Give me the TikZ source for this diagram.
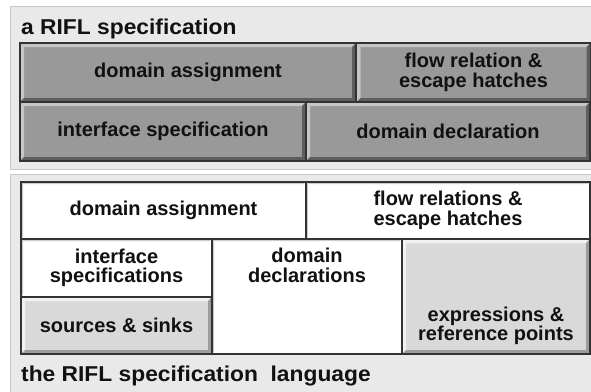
\documentclass[tikz,border=0pt]{standalone}
\usepackage{fontspec}
\usepackage{graphicx}
\setmainfont{Liberation Sans}
\definecolor{panelfill}{HTML}{E9E9E9}
\definecolor{panelline}{HTML}{C8C8C8}
\definecolor{dgray}{HTML}{999999}
\definecolor{dgraylight}{HTML}{C6C6C6}
\definecolor{dgraydark}{HTML}{5E5E5E}
\definecolor{lgray}{HTML}{D9D9D9}
\definecolor{lgraylight}{HTML}{F2F2F2}
\definecolor{lgraydark}{HTML}{9C9C9C}
\definecolor{outline}{HTML}{333333}
\definecolor{txt}{HTML}{111111}
\tikzset{
  bevel/.style n args={3}{path picture={
    \fill[#1] (path picture bounding box.north west) -- (path picture bounding box.north east)
      -- ([shift={(-#3,-#3)}]path picture bounding box.north east)
      -- ([shift={(#3,-#3)}]path picture bounding box.north west) -- cycle;
    \fill[#1] (path picture bounding box.north west) -- (path picture bounding box.south west)
      -- ([shift={(#3,#3)}]path picture bounding box.south west)
      -- ([shift={(#3,-#3)}]path picture bounding box.north west) -- cycle;
    \fill[#2] (path picture bounding box.south west) -- (path picture bounding box.south east)
      -- ([shift={(-#3,#3)}]path picture bounding box.south east)
      -- ([shift={(#3,#3)}]path picture bounding box.south west) -- cycle;
    \fill[#2] (path picture bounding box.north east) -- (path picture bounding box.south east)
      -- ([shift={(-#3,#3)}]path picture bounding box.south east)
      -- ([shift={(-#3,-#3)}]path picture bounding box.north east) -- cycle;
  }},
  boxtext/.style={font=\fontsize{20}{19.5}\selectfont\bfseries, text=txt, align=center},
  basebox/.style={boxtext, draw=outline, line width=1.3pt, inner sep=0pt, outer sep=0pt},
  darkbox/.style={basebox, fill=dgray, bevel={dgraylight}{dgraydark}{4pt}},
  lightbox/.style={basebox, fill=lgray, bevel={lgraylight}{lgraydark}{4pt}},
  whitebox/.style={basebox, fill=white, bevel={white!80!black}{white}{2pt}},
  paneltitle/.style={font=\fontsize{21.5}{24}\selectfont\bfseries, text=txt, anchor=base west, inner sep=0pt},
  panel/.style={fill=panelfill, draw=panelline, line width=1pt}
}
\begin{document}
\begin{tikzpicture}[x=1pt,y=-1pt]
\useasboundingbox (0,0) rectangle (591,391);
\fill[white] (0,0) rectangle (591,391);
% panels
\draw[panel] (10,6) rectangle (597,169);
\draw[panel] (10,174) rectangle (597,397);
% titles
\node[paneltitle] (t1) at (21,34) {\scalebox{1.06}[1]{a RIFL specification}};
\node[paneltitle] (t2) at (21,381) {\scalebox{1.06}[1]{the RIFL specification\ \ language}};
% top panel boxes
\node[darkbox, minimum width=336pt, minimum height=59pt] (da1) at (188,72.5) {domain assignment};
\node[darkbox, minimum width=234pt, minimum height=59pt] (fr1) at (473.5,72.5) {flow relation \&\\escape hatches};
\node[darkbox, minimum width=286pt, minimum height=59pt] (is1) at (163,131.5) {interface specification};
\node[darkbox, minimum width=284pt, minimum height=59pt] (dd1) at (448,131.5) {domain declaration};
% bottom panel boxes
\node[whitebox, minimum width=285pt, minimum height=57pt] (da2) at (163.5,210.5) {domain assignment};
\node[whitebox, minimum width=284pt, minimum height=57pt] (fr2) at (448,210.5) {flow relations \&\\escape hatches};
\node[whitebox, minimum width=191pt, minimum height=58pt] (is2) at (116.5,268) {interface\\specifications};
\node[lightbox, minimum width=191pt, minimum height=57pt] (ss2) at (116.5,325.5) {sources \& sinks};
\node[whitebox, minimum width=190pt, minimum height=115pt,
  label={[boxtext, anchor=north, inner sep=0pt, yshift=-9pt]north:{domain\\declarations}}] (dd2) at (307,296.5) {};
\node[lightbox, minimum width=188pt, minimum height=115pt,
  label={[boxtext, anchor=south, inner sep=0pt, yshift=9pt]south:{expressions \&\\reference points}}] (ex2) at (496,296.5) {};
\end{tikzpicture}
\end{document}
